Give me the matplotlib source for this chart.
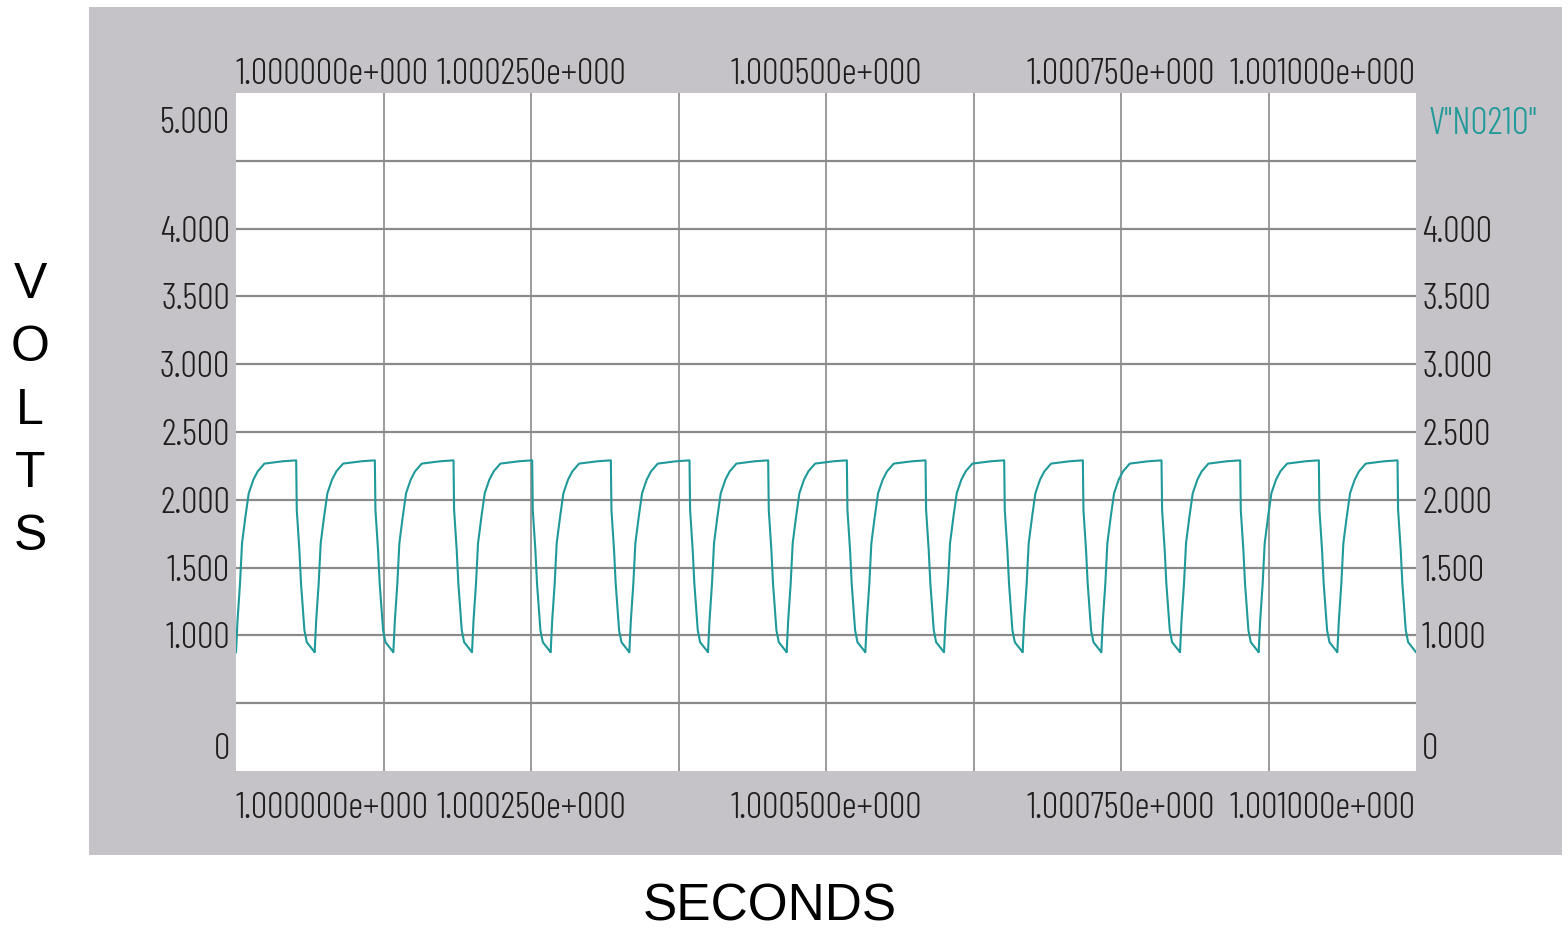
import numpy as np
import matplotlib

matplotlib.use("Agg")
import matplotlib.pyplot as plt
from matplotlib.patches import Rectangle
from matplotlib.transforms import ScaledTranslation, blended_transform_factory

# one period of V(N0210): time into the period (us) and volts
CYCLE_T_US = [0.0, 1.3, 3.4, 5.1, 8.0, 10.8, 14.7, 18.4, 24.1, 39.6, 51.0,
              51.5, 53.7, 55.1, 58.0, 60.0, 66.67]
CYCLE_V = [0.876, 1.111, 1.383, 1.679, 1.876, 2.049, 2.148, 2.210, 2.267,
           2.284, 2.291, 1.926, 1.630, 1.383, 1.037, 0.950, 0.876]
N_CYCLES = 15
T_START = 1.0          # s
PERIOD_US = 1000.0 / N_CYCLES

X_TICKS = [1.0, 1.00025, 1.0005, 1.00075, 1.001]
X_LABELS = ["1.000000e+000", "1.000250e+000", "1.000500e+000",
            "1.000750e+000", "1.001000e+000"]
X_GRID = [1.000125, 1.00025, 1.000375, 1.0005, 1.000625, 1.00075, 1.000875]
Y_TICKS = [0.0, 1.0, 1.5, 2.0, 2.5, 3.0, 3.5, 4.0, 5.0]
Y_LABELS = ["0", "1.000", "1.500", "2.000", "2.500", "3.000", "3.500",
            "4.000", "5.000"]
Y_GRID = [0.5, 1.0, 1.5, 2.0, 2.5, 3.0, 3.5, 4.0, 4.5]
TRACE_NAME = 'V"N0210"'

PANEL = "#c5c3c7"
GRID = "#8a8a8a"
TRACE = "#1f9999"
INK = "#1e1e1e"
NARROW = ["Barlow Condensed", "DejaVu Sans"]
SANS = ["Liberation Sans", "DejaVu Sans"]
LABEL_SIZE = 26.5

W, H = 1568, 931

t = np.concatenate([T_START + (k * PERIOD_US + np.array(CYCLE_T_US)) * 1e-6
                    for k in range(N_CYCLES)])
v = np.tile(CYCLE_V, N_CYCLES)

fig = plt.figure(figsize=(W / 100, H / 100), dpi=100)
fig.patch.set_facecolor("white")
fig.add_artist(Rectangle((89 / W, 1 - 855 / H), 1473 / W, 848 / H,
                         transform=fig.transFigure, facecolor=PANEL,
                         edgecolor="none", zorder=0))

ax = fig.add_axes([236 / W, 1 - 771 / H, 1180 / W, 678 / H])
ax.set_facecolor("white")
ax.set_xlim(X_TICKS[0], X_TICKS[-1])
ax.set_ylim(0, 5)
for s in ax.spines.values():
    s.set_visible(False)
ax.set_xticks([])
ax.set_yticks([])

for x in X_GRID:
    ax.axvline(x, color=GRID, lw=1.2, zorder=1)
for y in Y_GRID:
    ax.axhline(y, color=GRID, lw=1.6, zorder=1)

ax.plot(t, v, color=TRACE, lw=1.5, zorder=3)


def px(dx, dy):
    return ScaledTranslation(dx / 100, dy / 100, fig.dpi_scale_trans)


lab = dict(family=NARROW, weight=300, fontsize=LABEL_SIZE, color=INK)

# time labels, top and bottom; the end ones are pulled inside the frame
xt = blended_transform_factory(ax.transData, ax.transAxes)
for i, (x, s) in enumerate(zip(X_TICKS, X_LABELS)):
    ha = "left" if i == 0 else "right" if i == len(X_TICKS) - 1 else "center"
    ax.text(x, 1, s, transform=xt + px(0, 9), ha=ha, va="baseline", **lab)
    ax.text(x, 0, s, transform=xt + px(0, -47), ha=ha, va="baseline", **lab)

# volt labels; 0 and 5 sit inside the frame edges
yt = blended_transform_factory(ax.transAxes, ax.transData)
for y, s in zip(Y_TICKS, Y_LABELS):
    dy = -27 if y == Y_TICKS[-1] else 25 if y == Y_TICKS[0] else 0
    ax.text(0, y, s, transform=yt + px(-6, dy), ha="right",
            va="center_baseline", **lab)
    if y != Y_TICKS[-1]:
        ax.text(1, y, s, transform=yt + px(6, dy), ha="left",
                va="center_baseline", **lab)

ax.text(1, Y_TICKS[-1], TRACE_NAME, transform=yt + px(13, -27), ha="left",
        va="center_baseline", family=NARROW, weight=300,
        fontsize=LABEL_SIZE + 1, color=TRACE)

fig.text(30 / W, 1 - 411 / H, "V\nO\nL\nT\nS", ha="center", va="center",
         multialignment="center", linespacing=1.47, family=SANS, fontsize=36,
         color="black")
fig.text(770 / W, 1 - 907 / H, "SECONDS", ha="center", va="center",
         family=SANS, fontsize=37, color="black")

fig.savefig("out.png", dpi=100, facecolor="white")
